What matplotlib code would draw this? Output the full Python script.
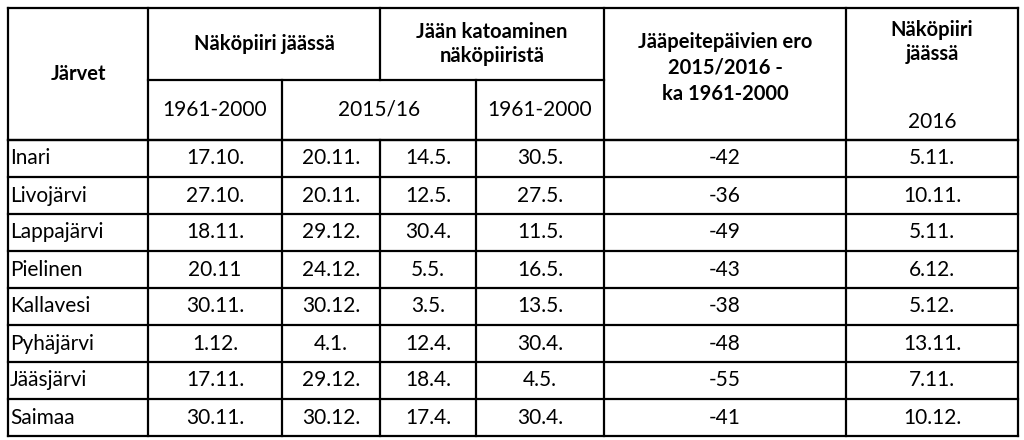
import matplotlib
matplotlib.use("Agg")
import matplotlib.pyplot as plt

lakes = ["Inari", "Livojärvi", "Lappajärvi", "Pielinen", "Kallavesi", "Pyhäjärvi", "Jääsjärvi", "Saimaa"]
freeze_1961_2000 = ["17.10.", "27.10.", "18.11.", "20.11", "30.11.", "1.12.", "17.11.", "30.11."]
freeze_2015 = ["20.11.", "20.11.", "29.12.", "24.12.", "30.12.", "4.1.", "29.12.", "30.12."]
breakup_2016 = ["14.5.", "12.5.", "30.4.", "5.5.", "3.5.", "12.4.", "18.4.", "17.4."]
breakup_1961_2000 = ["30.5.", "27.5.", "11.5.", "16.5.", "13.5.", "30.4.", "4.5.", "30.4."]
ice_days_diff = ["-42", "-36", "-49", "-43", "-38", "-48", "-55", "-41"]
freeze_2016 = ["5.11.", "10.11.", "5.11.", "6.12.", "5.12.", "13.11.", "7.11.", "10.12."]

W, H = 1024, 440
fig = plt.figure(figsize=(10.24, 4.4), dpi=100)
ax = fig.add_axes([0, 0, 1, 1])
ax.set_xlim(0, W); ax.set_ylim(H, 0); ax.axis("off")
fn = "Lato"
lw = 1.6

xs = [8, 148, 282, 380, 476, 604, 846, 1018]
y0, ymid, yh, y1 = 8, 80, 140, 436
rh = (y1 - yh) / len(lakes)

def hl(y, a, b): ax.plot([a, b], [y, y], color="black", lw=lw, solid_capstyle="projecting")
def vl(x, a, b): ax.plot([x, x], [a, b], color="black", lw=lw, solid_capstyle="projecting")

hl(y0, xs[0], xs[-1]); hl(y1, xs[0], xs[-1]); hl(yh, xs[0], xs[-1])
hl(ymid, xs[1], xs[5])
for i in range(len(lakes)):
    hl(yh + rh * i, xs[0], xs[-1])
for x in [xs[0], xs[1], xs[5], xs[6], xs[7]]:
    vl(x, y0, y1)
vl(xs[3], y0, ymid); vl(xs[3], yh, y1)
vl(xs[2], ymid, y1); vl(xs[4], ymid, y1)

bold = dict(fontsize=14.5, fontweight="bold", family=fn, ha="center", va="center")
norm = dict(fontsize=15, family=fn, va="center")
ax.text(78, 74, "Järvet", **bold)
ax.text(264, 44, "Näköpiiri jäässä", **bold)
ax.text(492, 44, "Jään katoaminen\nnäköpiiristä", linespacing=1.25, **bold)
ax.text(725, 68, "Jääpeitepäivien ero\n2015/2016 -\nka 1961-2000", linespacing=1.4, **bold)
ax.text(932, 42, "Näköpiiri\njäässä", linespacing=1.25, **bold)
ax.text(215, 110, "1961-2000", ha="center", **norm)
ax.text(379, 110, "2015/16", ha="center", **norm)
ax.text(540, 110, "1961-2000", ha="center", **norm)
ax.text(932, 122, "2016", ha="center", **norm)

cols = [freeze_1961_2000, freeze_2015, breakup_2016, breakup_1961_2000, ice_days_diff, freeze_2016]
for i, lake in enumerate(lakes):
    yc = yh + rh * (i + 0.5)
    ax.text(10, yc, lake, ha="left", **norm)
    for j, col in enumerate(cols):
        ax.text((xs[j + 1] + xs[j + 2]) / 2, yc, col[i], ha="center", **norm)

fig.savefig("out.png", dpi=100)
